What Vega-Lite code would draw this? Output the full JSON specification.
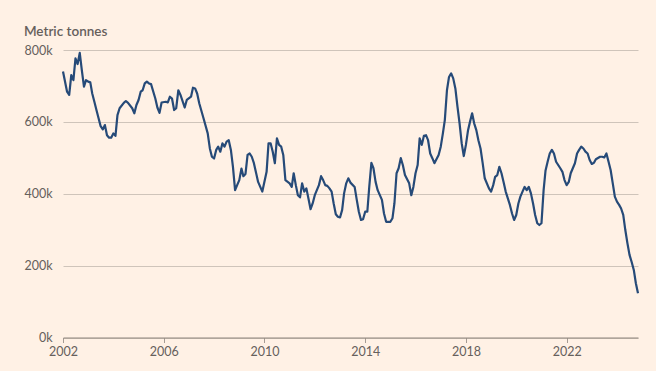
{
  "$schema": "https://vega.github.io/schema/vega-lite/v6.json",
  "width": 575,
  "height": 287.5,
  "autosize": {"type": "none"},
  "padding": {"left": 63, "top": 50, "right": 18, "bottom": 33.5},
  "background": "#FFF1E5",
  "title": {"text": "Metric tonnes", "anchor": "start", "frame": "bounds", "offset": 6, "fontSize": 13.5, "fontWeight": 600, "color": "#66605c", "font": "Lato"},
  "config": {"view": {"stroke": null}},
  "data": {"values": [
    {"date":"2002-01","tonnes_k":740},{"date":"2002-03","tonnes_k":684},{"date":"2002-04","tonnes_k":675},{"date":"2002-05","tonnes_k":730},{"date":"2002-06","tonnes_k":716},{"date":"2002-07","tonnes_k":777},{"date":"2002-08","tonnes_k":761},{"date":"2002-09","tonnes_k":792},{"date":"2002-10","tonnes_k":744},{"date":"2002-11","tonnes_k":698},{"date":"2002-12","tonnes_k":716},
    {"date":"2003-01","tonnes_k":712},{"date":"2003-02","tonnes_k":710},{"date":"2003-03","tonnes_k":679},{"date":"2003-04","tonnes_k":656},{"date":"2003-05","tonnes_k":633},{"date":"2003-06","tonnes_k":610},{"date":"2003-07","tonnes_k":588},{"date":"2003-08","tonnes_k":579},{"date":"2003-09","tonnes_k":591},{"date":"2003-10","tonnes_k":563},{"date":"2003-11","tonnes_k":556},{"date":"2003-12","tonnes_k":556},
    {"date":"2004-01","tonnes_k":568},{"date":"2004-02","tonnes_k":561},{"date":"2004-03","tonnes_k":619},{"date":"2004-04","tonnes_k":638},{"date":"2004-06","tonnes_k":653},{"date":"2004-07","tonnes_k":658},{"date":"2004-08","tonnes_k":653},{"date":"2004-10","tonnes_k":638},{"date":"2004-11","tonnes_k":624},{"date":"2004-12","tonnes_k":647},
    {"date":"2005-01","tonnes_k":661},{"date":"2005-02","tonnes_k":684},{"date":"2005-03","tonnes_k":688},{"date":"2005-04","tonnes_k":707},{"date":"2005-05","tonnes_k":712},{"date":"2005-06","tonnes_k":707},{"date":"2005-07","tonnes_k":705},{"date":"2005-09","tonnes_k":665},{"date":"2005-10","tonnes_k":640},{"date":"2005-11","tonnes_k":625},{"date":"2005-12","tonnes_k":654},
    {"date":"2006-02","tonnes_k":656},{"date":"2006-03","tonnes_k":654},{"date":"2006-04","tonnes_k":670},{"date":"2006-05","tonnes_k":665},{"date":"2006-06","tonnes_k":633},{"date":"2006-07","tonnes_k":638},{"date":"2006-08","tonnes_k":688},{"date":"2006-09","tonnes_k":675},{"date":"2006-11","tonnes_k":640},{"date":"2006-12","tonnes_k":661},
    {"date":"2007-02","tonnes_k":670},{"date":"2007-03","tonnes_k":695},{"date":"2007-04","tonnes_k":693},{"date":"2007-05","tonnes_k":679},{"date":"2007-06","tonnes_k":651},{"date":"2007-08","tonnes_k":610},{"date":"2007-10","tonnes_k":568},{"date":"2007-11","tonnes_k":526},{"date":"2007-12","tonnes_k":503},
    {"date":"2008-01","tonnes_k":498},{"date":"2008-02","tonnes_k":522},{"date":"2008-03","tonnes_k":531},{"date":"2008-04","tonnes_k":517},{"date":"2008-05","tonnes_k":540},{"date":"2008-06","tonnes_k":531},{"date":"2008-07","tonnes_k":545},{"date":"2008-08","tonnes_k":549},{"date":"2008-09","tonnes_k":522},{"date":"2008-10","tonnes_k":475},{"date":"2008-11","tonnes_k":410},{"date":"2008-12","tonnes_k":424},
    {"date":"2009-01","tonnes_k":438},{"date":"2009-02","tonnes_k":470},{"date":"2009-03","tonnes_k":449},{"date":"2009-04","tonnes_k":455},{"date":"2009-05","tonnes_k":508},{"date":"2009-06","tonnes_k":512},{"date":"2009-07","tonnes_k":503},{"date":"2009-08","tonnes_k":485},{"date":"2009-10","tonnes_k":433},{"date":"2009-12","tonnes_k":406},
    {"date":"2010-02","tonnes_k":461},{"date":"2010-03","tonnes_k":540},{"date":"2010-04","tonnes_k":540},{"date":"2010-05","tonnes_k":517},{"date":"2010-06","tonnes_k":485},{"date":"2010-07","tonnes_k":554},{"date":"2010-08","tonnes_k":536},{"date":"2010-09","tonnes_k":531},{"date":"2010-10","tonnes_k":508},{"date":"2010-11","tonnes_k":438},
    {"date":"2011-01","tonnes_k":429},{"date":"2011-02","tonnes_k":419},{"date":"2011-03","tonnes_k":457},{"date":"2011-04","tonnes_k":424},{"date":"2011-05","tonnes_k":396},{"date":"2011-06","tonnes_k":390},{"date":"2011-07","tonnes_k":429},{"date":"2011-08","tonnes_k":406},{"date":"2011-09","tonnes_k":415},{"date":"2011-10","tonnes_k":387},{"date":"2011-11","tonnes_k":357},{"date":"2011-12","tonnes_k":373},
    {"date":"2012-01","tonnes_k":396},{"date":"2012-03","tonnes_k":424},{"date":"2012-04","tonnes_k":449},{"date":"2012-05","tonnes_k":438},{"date":"2012-06","tonnes_k":424},{"date":"2012-07","tonnes_k":422},{"date":"2012-08","tonnes_k":415},{"date":"2012-09","tonnes_k":406},{"date":"2012-10","tonnes_k":373},{"date":"2012-11","tonnes_k":343},{"date":"2012-12","tonnes_k":336},
    {"date":"2013-01","tonnes_k":334},{"date":"2013-02","tonnes_k":355},{"date":"2013-03","tonnes_k":401},{"date":"2013-04","tonnes_k":429},{"date":"2013-05","tonnes_k":443},{"date":"2013-06","tonnes_k":431},{"date":"2013-08","tonnes_k":419},{"date":"2013-09","tonnes_k":383},{"date":"2013-10","tonnes_k":350},{"date":"2013-11","tonnes_k":327},{"date":"2013-12","tonnes_k":329},
    {"date":"2014-01","tonnes_k":350},{"date":"2014-02","tonnes_k":350},{"date":"2014-03","tonnes_k":419},{"date":"2014-04","tonnes_k":486},{"date":"2014-05","tonnes_k":471},{"date":"2014-06","tonnes_k":433},{"date":"2014-07","tonnes_k":410},{"date":"2014-09","tonnes_k":383},{"date":"2014-10","tonnes_k":345},{"date":"2014-11","tonnes_k":322},
    {"date":"2015-01","tonnes_k":322},{"date":"2015-02","tonnes_k":332},{"date":"2015-03","tonnes_k":373},{"date":"2015-04","tonnes_k":457},{"date":"2015-05","tonnes_k":471},{"date":"2015-06","tonnes_k":499},{"date":"2015-07","tonnes_k":480},{"date":"2015-08","tonnes_k":452},{"date":"2015-10","tonnes_k":429},{"date":"2015-11","tonnes_k":396},{"date":"2015-12","tonnes_k":419},
    {"date":"2016-01","tonnes_k":457},{"date":"2016-02","tonnes_k":480},{"date":"2016-03","tonnes_k":554},{"date":"2016-04","tonnes_k":536},{"date":"2016-05","tonnes_k":561},{"date":"2016-06","tonnes_k":563},{"date":"2016-07","tonnes_k":549},{"date":"2016-08","tonnes_k":512},{"date":"2016-09","tonnes_k":499},{"date":"2016-10","tonnes_k":485},{"date":"2016-12","tonnes_k":508},
    {"date":"2017-01","tonnes_k":531},{"date":"2017-02","tonnes_k":568},{"date":"2017-03","tonnes_k":605},{"date":"2017-04","tonnes_k":688},{"date":"2017-05","tonnes_k":725},{"date":"2017-06","tonnes_k":735},{"date":"2017-07","tonnes_k":721},{"date":"2017-08","tonnes_k":693},{"date":"2017-09","tonnes_k":642},{"date":"2017-10","tonnes_k":596},{"date":"2017-11","tonnes_k":540},{"date":"2017-12","tonnes_k":505},
    {"date":"2018-01","tonnes_k":536},{"date":"2018-02","tonnes_k":577},{"date":"2018-03","tonnes_k":600},{"date":"2018-04","tonnes_k":624},{"date":"2018-05","tonnes_k":596},{"date":"2018-06","tonnes_k":577},{"date":"2018-07","tonnes_k":549},{"date":"2018-08","tonnes_k":526},{"date":"2018-09","tonnes_k":485},{"date":"2018-10","tonnes_k":443},{"date":"2018-12","tonnes_k":415},
    {"date":"2019-01","tonnes_k":406},{"date":"2019-02","tonnes_k":424},{"date":"2019-03","tonnes_k":447},{"date":"2019-04","tonnes_k":452},{"date":"2019-05","tonnes_k":475},{"date":"2019-06","tonnes_k":457},{"date":"2019-07","tonnes_k":433},{"date":"2019-08","tonnes_k":406},{"date":"2019-10","tonnes_k":369},{"date":"2019-11","tonnes_k":345},{"date":"2019-12","tonnes_k":327},
    {"date":"2020-01","tonnes_k":341},{"date":"2020-02","tonnes_k":373},{"date":"2020-03","tonnes_k":392},{"date":"2020-04","tonnes_k":406},{"date":"2020-05","tonnes_k":419},{"date":"2020-06","tonnes_k":410},{"date":"2020-07","tonnes_k":419},{"date":"2020-08","tonnes_k":401},{"date":"2020-09","tonnes_k":373},{"date":"2020-10","tonnes_k":341},{"date":"2020-11","tonnes_k":318},{"date":"2020-12","tonnes_k":313},
    {"date":"2021-01","tonnes_k":318},{"date":"2021-02","tonnes_k":410},{"date":"2021-03","tonnes_k":465},{"date":"2021-04","tonnes_k":490},{"date":"2021-05","tonnes_k":512},{"date":"2021-06","tonnes_k":522},{"date":"2021-07","tonnes_k":512},{"date":"2021-08","tonnes_k":489},{"date":"2021-10","tonnes_k":471},{"date":"2021-11","tonnes_k":461},{"date":"2021-12","tonnes_k":438},
    {"date":"2022-01","tonnes_k":424},{"date":"2022-02","tonnes_k":433},{"date":"2022-03","tonnes_k":457},{"date":"2022-05","tonnes_k":485},{"date":"2022-06","tonnes_k":512},{"date":"2022-07","tonnes_k":522},{"date":"2022-08","tonnes_k":531},{"date":"2022-09","tonnes_k":526},{"date":"2022-10","tonnes_k":517},{"date":"2022-11","tonnes_k":512},{"date":"2022-12","tonnes_k":494},
    {"date":"2023-01","tonnes_k":483},{"date":"2023-02","tonnes_k":486},{"date":"2023-03","tonnes_k":496},{"date":"2023-05","tonnes_k":503},{"date":"2023-06","tonnes_k":503},{"date":"2023-07","tonnes_k":501},{"date":"2023-08","tonnes_k":512},{"date":"2023-09","tonnes_k":489},{"date":"2023-10","tonnes_k":466},{"date":"2023-11","tonnes_k":429},{"date":"2023-12","tonnes_k":392},
    {"date":"2024-01","tonnes_k":378},{"date":"2024-02","tonnes_k":369},{"date":"2024-03","tonnes_k":359},{"date":"2024-04","tonnes_k":341},{"date":"2024-05","tonnes_k":299},{"date":"2024-06","tonnes_k":262},{"date":"2024-07","tonnes_k":230},{"date":"2024-08","tonnes_k":210},{"date":"2024-09","tonnes_k":188},{"date":"2024-10","tonnes_k":151},{"date":"2024-11","tonnes_k":123}
  ]},
  "mark": {"type": "line", "color": "#264a78", "strokeWidth": 2.2, "strokeJoin": "round"},
  "encoding": {
    "x": {
      "field": "date", "type": "temporal",
      "scale": {"type": "utc", "nice": false, "padding": 0},
      "axis": {
        "title": null,
        "values": [{"year": 2002, "utc": true}, {"year": 2006, "utc": true}, {"year": 2010, "utc": true}, {"year": 2014, "utc": true}, {"year": 2018, "utc": true}, {"year": 2022, "utc": true}],
        "format": "%Y",
        "grid": false,
        "domain": true, "domainColor": "#8f857d", "domainWidth": 1,
        "ticks": true, "tickColor": "#a59b93", "tickSize": 5, "tickWidth": 1,
        "labelPadding": 3, "labelFontSize": 12.5, "labelFont": "Lato", "labelColor": "#66605c", "labelFlush": false
      }
    },
    "y": {
      "field": "tonnes_k", "type": "quantitative",
      "scale": {"domain": [0, 800], "nice": false, "zero": true},
      "axis": {
        "title": null,
        "values": [0, 200, 400, 600, 800],
        "labelExpr": "datum.value + 'k'",
        "grid": true, "gridColor": "#cfc4ba", "gridWidth": 1,
        "domain": false, "ticks": false,
        "labelPadding": 11, "labelFontSize": 12.5, "labelFont": "Lato", "labelColor": "#66605c", "labelBaseline": "middle"
      }
    }
  }
}
